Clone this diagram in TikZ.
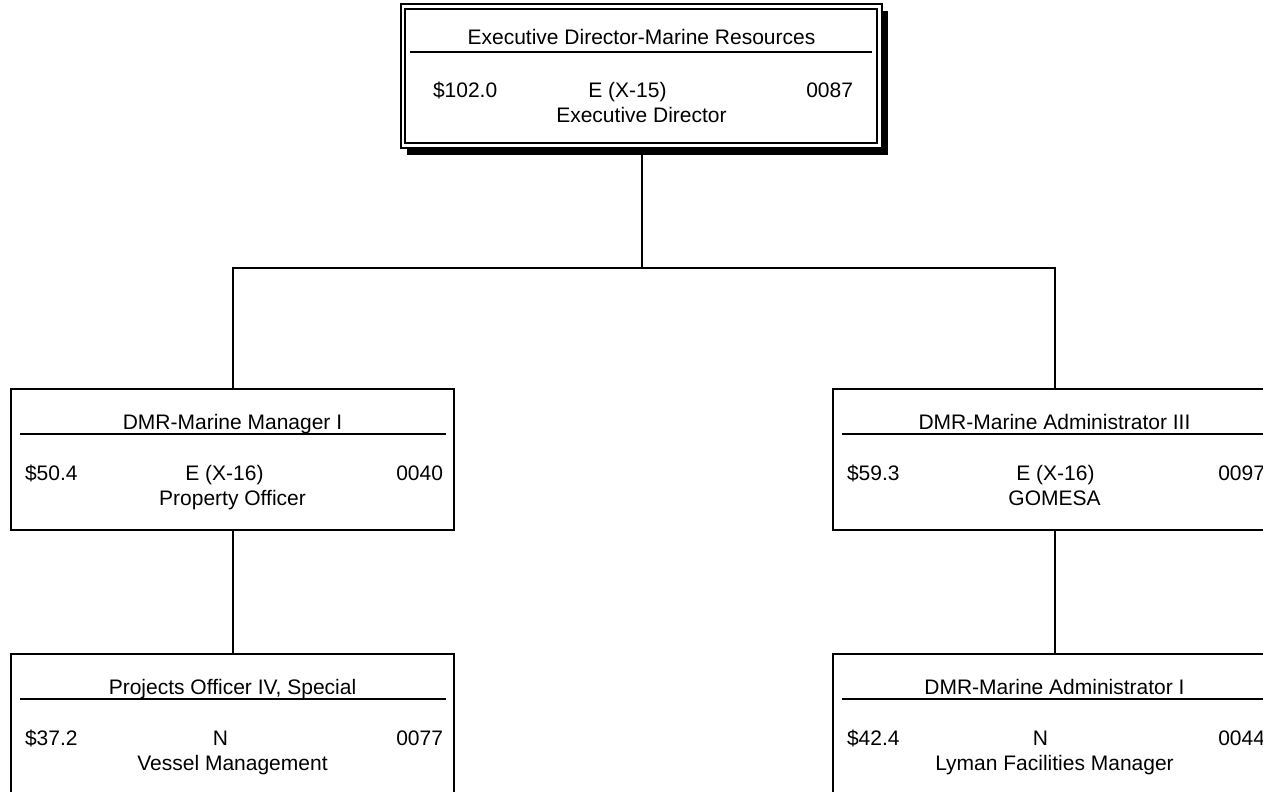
\documentclass[tikz,border=0pt]{standalone}
\usepackage{fontspec}
\setmainfont{Liberation Sans}
\usetikzlibrary{backgrounds}
\newcommand\orgbox[9]{%
  \node[box] (#1) at (#2,#3) {};
  \node[anchor=base] (#1-t) at ([yshift=-40pt]#1.north) {#4};
  \draw[rulel] ([xshift=9pt,yshift=-45pt]#1.north west) -- ([xshift=-8pt,yshift=-45pt]#1.north east);
  \node[anchor=base west] (#1-s) at ([xshift=14pt,yshift=-91pt]#1.north west) {#5};
  \node[anchor=base] (#1-g) at ([xshift=#9,yshift=-91pt]#1.north) {#6};
  \node[anchor=base east] (#1-n) at ([xshift=-11pt,yshift=-91pt]#1.north east) {#7};
  \node[anchor=base] (#1-d) at ([yshift=-116pt]#1.north) {#8};
}
\begin{document}
\begin{tikzpicture}[x=1pt,y=-1pt,
  every node/.style={font=\fontsize{21}{25}\selectfont, inner sep=0pt, outer sep=0pt},
  box/.style={draw, line width=2pt, fill=white, minimum width=443pt, minimum height=141pt, anchor=north west},
  conn/.style={line width=2pt},
  rulel/.style={line width=1.5pt}]
\useasboundingbox (0,0) rectangle (1263,792);
% top box
\node[box, minimum width=481pt, minimum height=144pt] (top) at (401,4) {};
\begin{scope}[on background layer]
\fill[white] (0,0) rectangle (1263,792);
\fill[black] ([xshift=6pt,yshift=-7pt]top.north west) rectangle ([xshift=6pt,yshift=-7pt]top.south east);
\end{scope}
\draw[line width=1.5pt] ([xshift=4pt,yshift=-5pt]top.north west) rectangle ([xshift=-5pt,yshift=5pt]top.south east);
\node[anchor=base] (top-t) at ([yshift=-41pt]top.north) {Executive Director-Marine Resources};
\draw[rulel] ([xshift=9pt,yshift=-48pt]top.north west) -- ([xshift=-10pt,yshift=-48pt]top.north east);
\node[anchor=base west] (top-s) at ([xshift=32pt,yshift=-93pt]top.north west) {\$102.0};
\node[anchor=base] (top-g) at ([xshift=-14pt,yshift=-93pt]top.north) {E (X-15)};
\node[anchor=base east] (top-n) at ([xshift=-29pt,yshift=-93pt]top.north east) {0087};
\node[anchor=base] (top-d) at ([yshift=-118pt]top.north) {Executive Director};
% level 2
\orgbox{m1}{11}{389}{DMR-Marine Manager I}{\$50.4}{E (X-16)}{0040}{Property Officer}{-8pt}
\orgbox{m2}{833}{389}{DMR-Marine Administrator III}{\$59.3}{E (X-16)}{0097}{GOMESA}{1pt}
% level 3
\orgbox{p1}{11}{654}{Projects Officer IV, Special}{\$37.2}{N}{0077}{Vessel Management}{-12pt}
\orgbox{p2}{833}{654}{DMR-Marine Administrator I}{\$42.4}{N}{0044}{Lyman Facilities Manager}{-14pt}
% connectors
\coordinate (jn) at (641.5,268);
\draw[conn] (top.south) -- (jn);
\draw[conn] (jn) -| (m1.north);
\draw[conn] (jn) -| (m2.north);
\draw[conn] (m1.south) -- (p1.north);
\draw[conn] (m2.south) -- (p2.north);
\end{tikzpicture}
\end{document}
